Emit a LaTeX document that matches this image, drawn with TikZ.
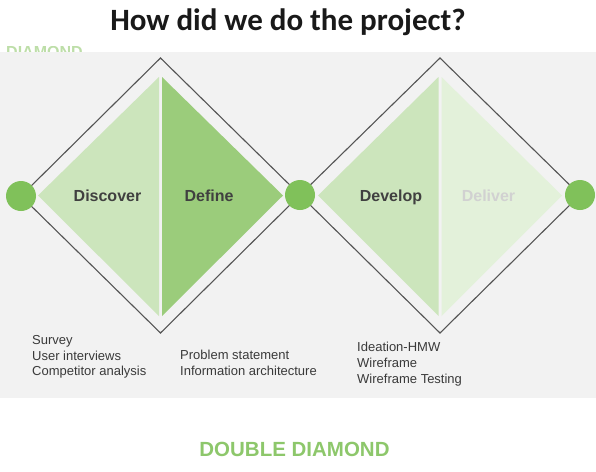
\documentclass[tikz,border=0pt]{standalone}
\usepackage{fontspec}
\setmainfont{Liberation Sans}
\newfontfamily\titlefont{Carlito}
\usetikzlibrary{positioning}
\definecolor{bgGray}{HTML}{F2F2F2}
\definecolor{lineGray}{HTML}{555555}
\definecolor{dotGreen}{HTML}{80C15A}
\definecolor{discGreen}{HTML}{CCE5BC}
\definecolor{defGreen}{HTML}{9BCC7B}
\definecolor{delGreen}{HTML}{E3F1DA}
\definecolor{textGray}{HTML}{404040}
\tikzset{dotStyle/.style={circle, fill=dotGreen, inner sep=0pt, minimum size=30pt}}
\tikzset{phaseStyle/.style={anchor=base, font=\bfseries\fontsize{16}{19}\selectfont, text=textGray}}
\tikzset{itemStyle/.style={anchor=base west, inner sep=0pt, font=\fontsize{13}{15.5}\selectfont, text=textGray!90!black}}
\tikzset{edgeStyle/.style={draw=lineGray, line width=1.1pt, line join=miter}}

\begin{document}
\begin{tikzpicture}[x=1pt, y=-1pt]
  \useasboundingbox (0,0) rectangle (596,471);
  % faded heading behind the band
  \begin{scope}
    \clip (0,46) rectangle (120,52);
    \node [anchor=base west, inner sep=0pt, font=\bfseries\fontsize{16}{19}\selectfont, text=discGreen!80!dotGreen] (fadeLabel) at (6,57) {DIAMOND};
  \end{scope}
  \fill [bgGray] (0,52) rectangle (596,398);

  % title
  \node [font=\titlefont\bfseries\fontsize{31}{36}\selectfont, text=black!90, anchor=base] (title) at (288,30) {How did we do the project?};

  % nodes
  \coordinate (top1) at (160.5,58);
  \coordinate (bot1) at (160.5,333);
  \coordinate (top2) at (440,58);
  \coordinate (bot2) at (440,333);

  % halves
  \fill [discGreen] (159,77) -- (38,195.5) -- (159,316) -- cycle;
  \fill [defGreen] (162,77) -- (283,195.5) -- (162,316) -- cycle;
  \fill [discGreen] (438.5,77) -- (318,195.5) -- (438.5,316) -- cycle;
  \fill [delGreen] (441.5,77) -- (562,195.5) -- (441.5,316) -- cycle;

  % lines
  \draw [edgeStyle] (21,196) -- (top1) -- (300,195) -- (top2) -- (580,195);
  \draw [edgeStyle] (21,196) -- (bot1) -- (300,195) -- (bot2) -- (580,195);

  \node at (21,196) [dotStyle] (start){};
  \node at (300,195) [dotStyle] (middle){};
  \node at (580,195) [dotStyle] (finish){};

  % labels
  \node [phaseStyle] (discover) at (107.5,201.5) {Discover};
  \node [phaseStyle] (define) at (209,201.5) {Define};
  \node [phaseStyle] (develop) at (391,201.5) {Develop};
  \node [phaseStyle, text=black!18] (deliver) at (488.5,201.5) {Deliver};

  % activities
  \foreach \txt [count=\i] in {Survey, User interviews, Competitor analysis}
    \node [itemStyle] (disc\i) at (32,{329+15.5*\i}) {\txt};
  \foreach \txt [count=\i] in {Problem statement, Information architecture}
    \node [itemStyle] (def\i) at (180,{344+15.5*\i}) {\txt};
  \foreach \txt [count=\i] in {Ideation-HMW, Wireframe, Wireframe Testing}
    \node [itemStyle] (dev\i) at (357,{336+15.7*\i}) {\txt};

  % caption
  \node [font=\bfseries\fontsize{20.5}{24}\selectfont, text=dotGreen!90!white, anchor=base] (caption) at (294.5,456) {DOUBLE DIAMOND};
\end{tikzpicture}
\end{document}
